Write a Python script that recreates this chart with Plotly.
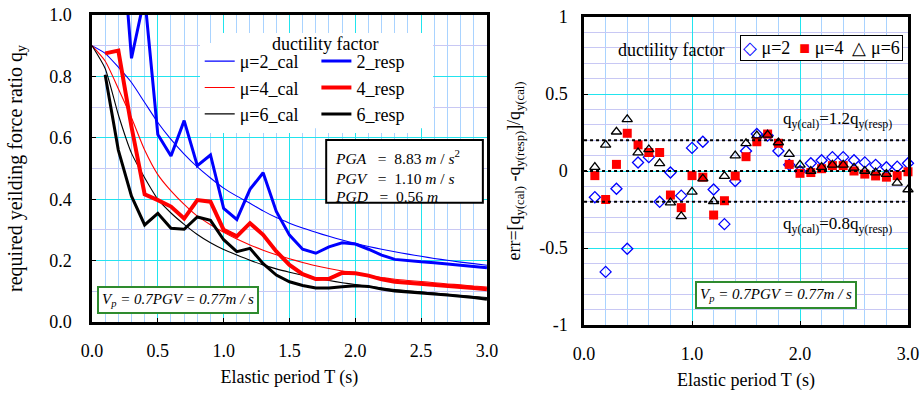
import plotly.graph_objects as go

# ---------------- data ----------------
period_cal = [0.0, 0.1, 0.2, 0.3, 0.4, 0.5, 0.6, 0.7, 0.8, 0.9, 1.0,
              1.1, 1.2, 1.3, 1.4, 1.5, 1.6, 1.7, 1.8, 1.9, 2.0,
              2.1, 2.2, 2.3, 2.4, 2.5, 2.6, 2.7, 2.8, 2.9, 3.0]
cal_mu2 = [0.90, 0.875, 0.83, 0.78, 0.715, 0.65, 0.595, 0.547, 0.505, 0.469, 0.436,
           0.41, 0.387, 0.362, 0.34, 0.322, 0.306, 0.292, 0.279, 0.267, 0.256,
           0.246, 0.237, 0.229, 0.221, 0.214, 0.207, 0.201, 0.195, 0.19, 0.185]
cal_mu4 = [0.90, 0.85, 0.76, 0.665, 0.56, 0.48, 0.427, 0.383, 0.345, 0.317, 0.292,
           0.27, 0.251, 0.234, 0.219, 0.206, 0.194, 0.183, 0.174, 0.166, 0.158,
           0.151, 0.145, 0.139, 0.135, 0.132, 0.128, 0.124, 0.121, 0.117, 0.114]
cal_mu6 = [0.90, 0.826, 0.675, 0.55, 0.47, 0.40, 0.355, 0.318, 0.285, 0.258, 0.236,
           0.218, 0.201, 0.186, 0.173, 0.162, 0.152, 0.143, 0.135, 0.128, 0.122,
           0.116, 0.111, 0.106, 0.102, 0.098, 0.094, 0.09, 0.086, 0.083, 0.08]

period_resp = [0.1, 0.2, 0.3, 0.4, 0.5, 0.6, 0.7, 0.8, 0.9, 1.0,
               1.1, 1.2, 1.3, 1.4, 1.5, 1.6, 1.7, 1.8, 1.9, 2.0,
               2.1, 2.2, 2.3, 2.4, 2.5, 2.6, 2.7, 2.8, 2.9, 3.0]
resp_mu2 = [1.03, 1.40, 0.859, 1.06, 0.611, 0.541, 0.656, 0.509, 0.544, 0.37,
            0.334, 0.432, 0.486, 0.36, 0.283, 0.237, 0.224, 0.245, 0.258, 0.254,
            0.237, 0.218, 0.204, 0.199, 0.196, 0.193, 0.189, 0.186, 0.182, 0.177]
resp_mu4 = [0.875, 0.884, 0.636, 0.416, 0.397, 0.376, 0.337, 0.397, 0.392, 0.30,
            0.279, 0.322, 0.284, 0.23, 0.186, 0.156, 0.14, 0.141, 0.16, 0.159,
            0.151, 0.139, 0.131, 0.127, 0.124, 0.121, 0.117, 0.114, 0.111, 0.107]
resp_mu6 = [0.805, 0.56, 0.41, 0.316, 0.354, 0.305, 0.302, 0.342, 0.331, 0.268,
            0.229, 0.24, 0.19, 0.153, 0.131, 0.119, 0.111, 0.111, 0.115, 0.118,
            0.116, 0.107, 0.101, 0.097, 0.094, 0.091, 0.088, 0.085, 0.08, 0.074]

err_mu2 = [-0.17, -0.655, -0.115, -0.505, 0.055, 0.09, -0.20, -0.01, -0.16, 0.15,
           0.19, -0.12, -0.345, -0.065, 0.13, 0.24, 0.23, 0.13, 0.04, 0.0,
           0.05, 0.07, 0.09, 0.09, 0.07, 0.056, 0.04, 0.024, 0.028, 0.05]
err_mu4 = [-0.03, -0.185, 0.043, 0.245, 0.17, 0.12, 0.12, -0.156, -0.238, -0.03,
           -0.04, -0.286, -0.193, -0.032, 0.093, 0.19, 0.24, 0.18, 0.043, -0.015,
           -0.01, 0.015, 0.035, 0.035, 0.0, -0.02, -0.032, -0.04, -0.03, -0.005]
err_mu6 = [0.025, 0.17, 0.255, 0.335, 0.12, 0.14, 0.05, -0.205, -0.295, -0.135,
           -0.05, -0.197, -0.033, 0.10, 0.18, 0.23, 0.235, 0.185, 0.11, 0.04,
           0.0, 0.025, 0.04, 0.04, 0.02, 0.0, -0.01, -0.02, -0.077, -0.12]
ref_levels = [0.2, 0.0, -0.2]

y_ticks_right = [-1, -0.5, 0, 0.5, 1]
y_ticktext_right = ["-1", "-0.5", "0", "0.5", "1"]

# ---------------- style ----------------
FONT = "Liberation Serif, Times New Roman, serif"
CYAN = "#22e4ee"
MINOR_V = "#a9d3ff"
MINOR_H = "#c8c8f4"
BLUE = "#0000ff"
RED = "#ff0000"

fig = go.Figure()

# left panel: calculated (thin) and response (thick)
for name, ys, col in [("μ=2_cal", cal_mu2, BLUE), ("μ=4_cal", cal_mu4, RED), ("μ=6_cal", cal_mu6, "black")]:
    fig.add_trace(go.Scatter(x=period_cal, y=ys, mode="lines", name=name,
                             line=dict(color=col, width=1.1, shape="spline", smoothing=0.6),
                             xaxis="x", yaxis="y", legend="legend"))
for name, ys, col, w in [("2_resp", resp_mu2, BLUE, 3), ("4_resp", resp_mu4, RED, 4), ("6_resp", resp_mu6, "black", 3)]:
    fig.add_trace(go.Scatter(x=period_resp, y=ys, mode="lines", name=name,
                             line=dict(color=col, width=w),
                             xaxis="x", yaxis="y", legend="legend2"))

# right panel: errors
fig.add_trace(go.Scatter(x=period_resp, y=err_mu2, mode="markers", name="μ=2", showlegend=False,
                         marker=dict(symbol="diamond-open", size=8.5, color=BLUE, line=dict(width=1.3)),
                         xaxis="x2", yaxis="y2", cliponaxis=False))
fig.add_trace(go.Scatter(x=period_resp, y=err_mu4, mode="markers", name="μ=4", showlegend=False,
                         marker=dict(symbol="square", size=9, color=RED),
                         xaxis="x2", yaxis="y2", cliponaxis=False))
fig.add_trace(go.Scatter(x=period_resp, y=err_mu6, mode="markers", name="μ=6", showlegend=False,
                         marker=dict(symbol="triangle-up-open", size=9, color="black", line=dict(width=1.3)),
                         xaxis="x2", yaxis="y2", cliponaxis=False))

shapes = []
for lv in ref_levels:
    shapes.append(dict(type="line", xref="x2", yref="y2", x0=0, x1=3, y0=lv, y1=lv,
                       line=dict(color="black", width=2, dash="dot"), layer="above"))
# white background behind left legend block
shapes.append(dict(type="rect", xref="paper", yref="paper", x0=0.148, x1=0.418, y0=0.635, y1=0.942,
                   fillcolor="white", line=dict(width=0), layer="above"))
# PGA box
shapes.append(dict(type="rect", xref="paper", yref="paper", x0=0.287, x1=0.479, y0=0.394, y1=0.597,
                   fillcolor="white", line=dict(color="black", width=2), layer="above"))

tf = dict(family=FONT, size=18, color="black")


def note(text, x, y, size, xanchor="center", **kw):
    return dict(text=text, xref="paper", yref="paper", x=x, y=y, xanchor=xanchor, yanchor="middle",
                showarrow=False, font=dict(family=FONT, size=size, color="black"), **kw)


annotations = [
    note("ductility factor", 0.285, 0.905, 18),
    note("<i>PGA</i>   =  8.83 <i>m</i> / <i>s</i><sup>2</sup>", 0.295, 0.542, 15.5, xanchor="left"),
    note("<i>PGV</i>   =  1.10 <i>m</i> / <i>s</i>", 0.295, 0.474, 15.5, xanchor="left"),
    note("<i>PGD</i>   =  0.56 <i>m</i>", 0.295, 0.413, 15.5, xanchor="left"),
    note("<i>V<sub>p</sub> = 0.7PGV = 0.77m / s</i>", 0.105, 0.0806, 15,
         bordercolor="#2e8b2e", borderwidth=2, borderpad=3, bgcolor="white"),
    note("<i>V<sub>p</sub> = 0.7PGV = 0.77m / s</i>", 0.838, 0.097, 15,
         bordercolor="#2e8b2e", borderwidth=2, borderpad=3, bgcolor="white"),
    note("ductility factor", 0.7096, 0.887, 18),
    note('<span style="color:#0000ff">◇</span> μ=2  <span style="color:#ff0000">■</span> μ=4  △ μ=6',
         0.894, 0.894, 18, bordercolor="black", borderwidth=1, borderpad=2, bgcolor="white"),
    note("q<sub>y(cal)</sub>=1.2q<sub>y(resp)</sub>", 0.913, 0.661, 17),
    note("q<sub>y(cal)</sub>=0.8q<sub>y(resp)</sub>", 0.913, 0.323, 17),
]

axis_common = dict(showline=True, linecolor="black", linewidth=2.5, mirror=True,
                   ticks="inside", ticklen=4, tickcolor="black", zeroline=False,
                   showgrid=True, gridcolor=CYAN, gridwidth=1, tickfont=tf, automargin=False,
                   ticklabeloverflow="allow")

fig.update_layout(
    width=922, height=393,
    margin=dict(l=92, r=14, t=15, b=68),
    paper_bgcolor="white", plot_bgcolor="white",
    font=dict(family=FONT, color="black"),
    xaxis=dict(domain=[0, 0.484], anchor="y", range=[0, 3], dtick=0.5, tick0=0, tickformat=".1f",
               minor=dict(dtick=0.1, tick0=0, showgrid=True, gridcolor=MINOR_V, gridwidth=1),
               title=dict(text="Elastic period T (s)", font=tf, standoff=11),
               ticklabelstandoff=11, **axis_common),
    yaxis=dict(domain=[0.0097, 1], anchor="x", range=[0, 1], dtick=0.2, tick0=0, tickformat=".1f",
               minor=dict(dtick=0.1, tick0=0, showgrid=True, gridcolor=MINOR_H, gridwidth=1),
               title=dict(text="required yeilding force ratio q<sub>y</sub>",
                          font=dict(family=FONT, size=20, color="black"), standoff=22),
               ticklabelstandoff=14, **axis_common),
    xaxis2=dict(domain=[0.603, 1], anchor="y2", range=[0, 3], dtick=1, tick0=0, tickformat=".1f",
                minor=dict(dtick=0.2, tick0=0, showgrid=True, gridcolor=MINOR_V, gridwidth=1),
                title=dict(text="Elastic period T (s)", font=tf, standoff=11),
                ticklabelstandoff=11, **axis_common),
    yaxis2=dict(domain=[0, 0.9935], anchor="x2", range=[-1, 1],
                tickvals=y_ticks_right, ticktext=y_ticktext_right,
                minor=dict(dtick=0.1, tick0=0, showgrid=True, gridcolor=MINOR_H, gridwidth=1),
                title=dict(text="err=[q<sub>y(cal)</sub> -q<sub>y(resp)</sub>]/q<sub>y(cal)</sub>",
                           font=dict(family=FONT, size=18, color="black"), standoff=14),
                ticklabelstandoff=10, **axis_common),
    legend=dict(x=0.132, y=0.91, xanchor="left", yanchor="top", bgcolor="white",
                font=dict(family=FONT, size=18, color="black"), tracegroupgap=0,
                borderwidth=0, itemwidth=30),
    legend2=dict(x=0.275, y=0.91, xanchor="left", yanchor="top", bgcolor="white",
                 font=dict(family=FONT, size=18, color="black"), tracegroupgap=0,
                 borderwidth=0, itemwidth=30),
    shapes=shapes,
    annotations=annotations,
)

fig.write_html("out.html", config={"displayModeBar": False},
               post_script="document.body.style.margin='0px';document.body.style.overflow='hidden';")
